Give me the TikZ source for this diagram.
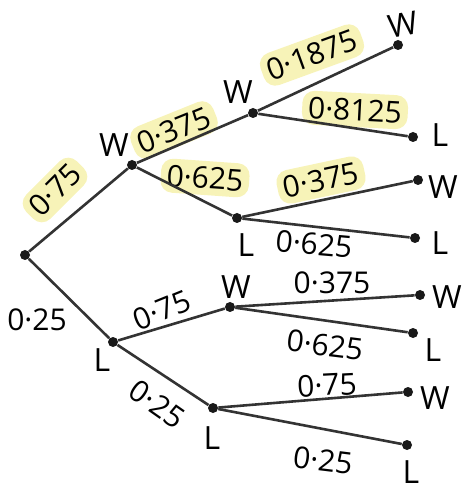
\documentclass[tikz,border=0pt]{standalone}
\usepackage{xcolor}
\usepackage{fontspec}
\setmainfont{Open Sans}
\usepackage{tikz}
\usetikzlibrary{positioning}
\definecolor{hlyellow}{RGB}{247,243,184}

\begin{document}
\begin{tikzpicture}[x=0.5pt, y=-0.5pt,
  dot/.style={circle, fill=black!90, inner sep=0pt, minimum size=5pt},
  branch/.style={draw=black!80, line width=1.3pt},
  prob/.style={font=\fontsize{15}{17}\selectfont, inner sep=1pt},
  hl/.style={prob, fill=hlyellow, rounded corners=6pt, inner sep=3pt},
  res/.style={font=\fontsize{16}{18}\selectfont, inner sep=1pt}]
 \useasboundingbox (0, 0) rectangle (461, 490);
 % points of the tree
 \node [dot] (R) at (25, 255) {};
 \node [dot] (W) at (132, 165) {};
 \node [dot] (L) at (113, 342) {};
 \node [dot] (WW) at (253, 113) {};
 \node [dot] (WL) at (237, 218) {};
 \node [dot] (LW) at (230, 307) {};
 \node [dot] (LL) at (213, 408) {};
 \node [dot] (WWW) at (398, 45) {};
 \node [dot] (WWL) at (413, 137) {};
 \node [dot] (WLW) at (418, 180) {};
 \node [dot] (WLL) at (415, 238) {};
 \node [dot] (LWW) at (420, 295) {};
 \node [dot] (LWL) at (413, 333) {};
 \node [dot] (LLW) at (408, 392) {};
 \node [dot] (LLL) at (407, 445) {};
 % highlighted probabilities (behind the lines)
 \node [hl, rotate=45] (pW) at (55, 190) {0·75};
 \node [hl, rotate=22] (pWW) at (174, 130) {0·375};
 \node [hl, rotate=-4] (pWL) at (205, 178) {0·625};
 \node [hl, rotate=20] (pWWW) at (312, 55) {0·1875};
 \node [hl, rotate=-3] (pWWL) at (355, 110) {0·8125};
 \node [hl, rotate=12] (pWLW) at (321, 180) {0·375};
 % branches
 \draw [branch] (R) -- (W);
 \draw [branch] (R) -- (L);
 \draw [branch] (W) -- (WW);
 \draw [branch] (W) -- (WL);
 \draw [branch] (L) -- (LW);
 \draw [branch] (L) -- (LL);
 \draw [branch] (WW) -- (WWW);
 \draw [branch] (WW) -- (WWL);
 \draw [branch] (WL) -- (WLW);
 \draw [branch] (WL) -- (WLL);
 \draw [branch] (LW) -- (LWW);
 \draw [branch] (LW) -- (LWL);
 \draw [branch] (LL) -- (LLW);
 \draw [branch] (LL) -- (LLL);
 % other probabilities
 \node [prob] (pL) at (37, 320) {0·25};
 \node [prob, rotate=-5] (pWLL) at (314, 244) {0·625};
 \node [prob, rotate=22] (pLW) at (162, 310) {0·75};
 \node [prob, rotate=-35] (pLL) at (157, 404) {0·25};
 \node [prob] (pLWW) at (332, 283) {0·375};
 \node [prob, rotate=-7] (pLWL) at (325, 345) {0·625};
 \node [prob, rotate=3] (pLLW) at (327, 385) {0·75};
 \node [prob, rotate=-7] (pLLL) at (323, 460) {0·25};
 % outcomes
 \node [res] (tW) at (114, 145) {W};
 \node [res] (tL) at (102, 360) {L};
 \node [res] (tWW) at (238, 92) {W};
 \node [res] (tWL) at (246, 245) {L};
 \node [res] (tLW) at (236, 287) {W};
 \node [res] (tLL) at (212, 438) {L};
 \node [res, rotate=10] (tWWW) at (403, 25) {W};
 \node [res] (tWWL) at (440, 135) {L};
 \node [res] (tWLW) at (443, 187) {W};
 \node [res] (tWLL) at (440, 243) {L};
 \node [res] (tLWW) at (447, 297) {W};
 \node [res] (tLWL) at (433, 350) {L};
 \node [res] (tLLW) at (435, 398) {W};
 \node [res] (tLLL) at (411, 472) {L};
\end{tikzpicture}
\end{document}
